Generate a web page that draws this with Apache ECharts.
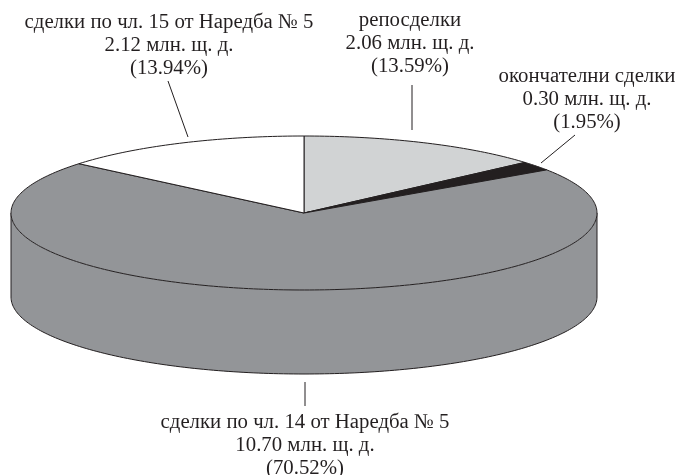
<!DOCTYPE html>
<html>
<head>
<meta charset="utf-8">
<style>
  html, body { margin: 0; padding: 0; background: #fff; }
  #chart { width: 682px; height: 475px; }
</style>
</head>
<body>
<div id="chart"></div>
<script src="https://cdn.jsdelivr.net/npm/echarts@6/dist/echarts.min.js"></script>
<script>
// clockwise from 12 o'clock
var names = ['репосделки', 'окончателни сделки', 'сделки по чл. 14 от Наредба № 5', 'сделки по чл. 15 от Наредба № 5']
var amounts = ['2.06', '0.30', '10.70', '2.12']
var shares = [13.59, 1.95, 70.52, 13.94]
var colors = ['#d1d3d4', '#231f20', '#939598', '#ffffff']

var cx = 304
var cy = 213
var rx = 293
var ry = 77
var depth = 84
var stroke = '#231f20'

// where each label and its leader line sit
var labelPos = [[410, 9], [587, 65], [305, 411], [169, 11]]
var leaders = [
  [[412, 85], [412, 130]],
  [[575, 135], [541, 163]],
  [[305, 382], [305, 406]],
  [[168, 81], [188, 137]]
]

var total = shares.reduce(function (a, b) { return a + b }, 0)

function point (deg, dy) {
  var a = deg * Math.PI / 180
  return [cx + rx * Math.sin(a), cy + (dy || 0) - ry * Math.cos(a)]
}

function arc (from, to, dy) {
  var pts = []
  for (var d = from; d < to; d += 1) pts.push(point(d, dy))
  pts.push(point(to, dy))
  return pts
}

function startOf (index) {
  var sum = 0
  for (var i = 0; i < index; i++) sum += shares[i]
  return sum / total * 360
}

function renderSlice (params, api) {
  var i = params.dataIndex
  var from = startOf(i)
  var to = from + api.value(0) / total * 360
  var children = []

  // outer wall, only the front half (90-270) can be seen
  var sideFrom = Math.max(from, 90)
  var sideTo = Math.min(to, 270)
  if (sideTo > sideFrom) {
    children.push({
      type: 'polygon',
      shape: { points: arc(sideFrom, sideTo, 0).concat(arc(sideFrom, sideTo, depth).reverse()) },
      style: { fill: colors[i], stroke: null }
    })
    children.push({
      type: 'polyline',
      shape: { points: [point(sideFrom, 0)].concat(arc(sideFrom, sideTo, depth), [point(sideTo, 0)]) },
      style: { fill: null, stroke: stroke, lineWidth: 1 }
    })
  }

  children.push({
    type: 'polygon',
    shape: { points: [[cx, cy]].concat(arc(from, to, 0)) },
    style: { fill: colors[i], stroke: stroke, lineWidth: 1, lineJoin: 'round' }
  })
  return { type: 'group', children: children }
}

var graphics = []
leaders.forEach(function (l) {
  graphics.push({
    type: 'line',
    shape: { x1: l[0][0], y1: l[0][1], x2: l[1][0], y2: l[1][1] },
    style: { stroke: stroke, lineWidth: 1 }
  })
})
names.forEach(function (name, i) {
  graphics.push({
    type: 'text',
    x: labelPos[i][0],
    y: labelPos[i][1],
    style: {
      text: name + '\n' + amounts[i] + ' млн. щ. д.\n(' + shares[i].toFixed(2) + '%)',
      align: 'center',
      verticalAlign: 'top',
      font: '20.8px "Liberation Serif", serif',
      lineHeight: 23,
      fill: stroke
    }
  })
})

var chart = echarts.init(document.getElementById('chart'), null, { renderer: 'canvas' })
chart.setOption({
  animation: false,
  backgroundColor: '#fff',
  graphic: graphics,
  series: [{
    type: 'custom',
    coordinateSystem: 'none',
    renderItem: renderSlice,
    data: shares.map(function (v, i) { return { name: names[i], value: [v] } })
  }]
})
</script>
</body>
</html>
